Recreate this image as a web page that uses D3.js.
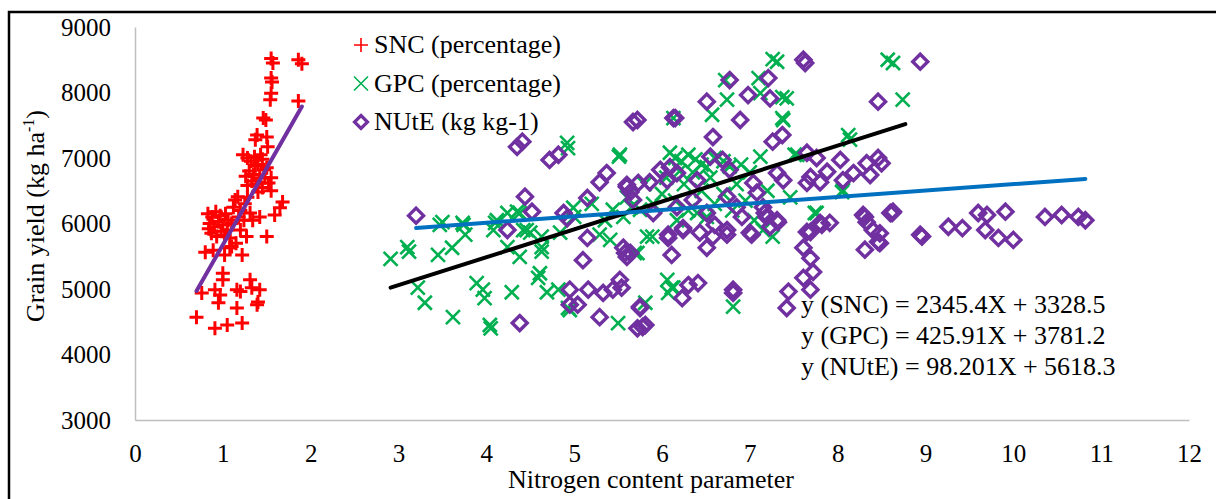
<!DOCTYPE html>
<html>
<head>
<meta charset="utf-8">
<script src="https://cdn.jsdelivr.net/npm/d3@7"></script>
<style>
  body { margin: 0; background: #fff; }
  svg { display: block; font-family: "Liberation Serif", "Times New Roman", serif; }
</style>
</head>
<body>
<div id="chart-area"></div>
<script>
// values
var sncPoints = [
  [1.55, 8520], [1.57, 8450], [1.86, 8500], [1.90, 8440], [1.55, 8220], [1.56, 8160],
  [1.55, 7990], [1.54, 7890], [1.86, 7870], [1.46, 7610], [1.49, 7580], [1.39, 7350],
  [1.50, 7320], [1.37, 7280], [1.51, 7170], [1.23, 7050],
  [1.28, 7000], [1.32, 6950], [1.36, 7020], [1.40, 6900], [1.45, 6980], [1.50, 6850],
  [1.30, 6800], [1.35, 6750], [1.42, 6700], [1.47, 6820], [1.26, 6720], [1.33, 6650],
  [1.38, 6600], [1.52, 6620], [1.45, 6550], [1.55, 6500], [1.40, 6480], [1.28, 6580],
  [1.48, 6700], [1.55, 6700], [1.37, 6880], [1.43, 7050],
  [1.68, 6330], [1.65, 6240], [1.59, 6130], [1.14, 6360], [1.17, 6410],
  [0.83, 6150], [0.88, 6100], [0.92, 6180], [0.97, 6120], [1.03, 6150], [1.06, 6050],
  [0.85, 6000], [0.90, 5950], [0.95, 6030], [1.00, 5980], [1.05, 5900], [0.87, 5850],
  [0.93, 5800], [0.98, 5880], [1.08, 5780], [0.84, 5920], [1.02, 5820],
  [1.12, 6250], [1.20, 6200], [1.25, 6300], [1.18, 6100], [1.10, 6000], [1.24, 6050],
  [1.28, 6400], [1.15, 5700], [1.10, 5650],
  [1.34, 6050], [1.31, 6160], [1.42, 6100], [1.50, 5800], [1.27, 5800], [1.20, 5900],
  [0.80, 5560], [0.89, 5590], [1.02, 5520], [1.08, 5630], [1.22, 5520],
  [1.00, 5240], [1.00, 5140], [0.76, 4940], [0.91, 4990], [0.97, 4910], [0.95, 4790],
  [1.16, 4990], [1.20, 4960], [1.31, 5140], [1.33, 5020], [1.42, 4990], [1.39, 4760],
  [1.40, 4800], [1.16, 4710], [0.70, 4570], [0.91, 4400], [1.05, 4450], [1.22, 4480]
];

var gpcPoints = [
  [7.26, 8510], [7.31, 8470], [8.57, 8500], [8.63, 8450], [7.10, 8220], [6.72, 8190],
  [6.74, 7890], [7.12, 7990], [7.42, 7910], [8.74, 7890], [6.57, 7660], [7.37, 7930],
  [7.37, 7610], [6.13, 7610], [4.92, 7230], [4.93, 7150], [5.52, 7050], [7.12, 7020],
  [8.12, 7350], [8.14, 7280], [7.54, 7050], [8.06, 6510], [7.76, 6160], [7.46, 6400],
  [6.09, 7080], [6.15, 7000], [6.22, 6950], [6.30, 7050], [6.38, 6980], [6.45, 6900],
  [6.51, 6860], [6.60, 7000], [6.70, 6950], [6.77, 6870], [6.20, 6800], [6.35, 6780],
  [6.90, 6900], [7.00, 6780], [6.05, 6700], [6.55, 6700], [6.25, 6600], [6.85, 6600],
  [6.00, 6450], [6.45, 6500], [6.70, 6450], [5.90, 6300], [6.15, 6350], [6.60, 6300],
  [6.95, 6350], [7.20, 6500], [5.80, 6600], [5.60, 6400], [6.30, 6200], [6.80, 6200],
  [3.50, 6020], [3.73, 6010], [4.12, 6050], [4.24, 6160], [4.38, 6160], [4.46, 5900],
  [3.10, 5640], [2.91, 5460], [3.12, 5570], [3.45, 5520], [3.61, 5630], [3.47, 5980],
  [3.74, 5980], [3.76, 5830], [4.08, 5900], [4.10, 6010], [4.35, 6180], [4.42, 5900],
  [4.50, 5860], [4.24, 5640], [4.38, 5490], [4.63, 5640], [4.63, 5800], [4.84, 5860],
  [4.99, 6240], [5.51, 7020], [5.29, 5830], [5.41, 5750], [5.44, 6210], [5.56, 6100],
  [5.72, 5550], [3.22, 5020], [3.30, 4790], [3.62, 4570], [3.89, 5090], [3.96, 4990],
  [3.98, 4860], [4.04, 4450], [4.05, 4400], [4.29, 4950], [4.61, 5240], [4.59, 5170],
  [4.69, 4950], [4.82, 4990], [4.93, 4710], [5.50, 4480], [5.75, 6210], [5.83, 5800],
  [7.74, 6160], [7.26, 5800], [5.89, 5800], [5.69, 5550], [6.06, 5140], [6.11, 5020],
  [6.07, 4940], [5.81, 4790], [6.81, 4730], [6.17, 6050], [6.40, 6160], [6.51, 6100],
  [7.38, 7580], [8.05, 6480], [7.51, 7050], [4.95, 4680], [6.13, 5020], [4.63, 5570],
  [5.20, 6300], [5.35, 6050], [5.00, 6100], [5.65, 6250], [7.05, 6050], [7.15, 5900]
];

var nutePoints = [
  [3.20, 6120], [4.35, 7170], [4.41, 7250], [4.72, 6970], [4.82, 7050], [5.67, 7550],
  [6.13, 7610], [6.51, 7860], [6.77, 8190], [7.21, 8220], [6.98, 7960], [7.23, 7910],
  [6.89, 7580], [6.58, 7320], [7.26, 7250], [7.37, 7350], [4.44, 6410], [4.52, 6180],
  [4.24, 5900], [5.15, 6390], [5.29, 6630], [5.37, 6770], [4.88, 6160], [4.92, 6080],
  [5.60, 6560], [5.64, 6480], [5.67, 6360], [5.73, 6620], [5.86, 6630], [5.98, 6820],
  [6.09, 6860], [6.17, 6770], [6.06, 6660], [6.40, 6660], [6.55, 7020], [6.69, 6970],
  [6.77, 6820], [7.04, 6620], [7.08, 6470], [7.31, 6770], [7.38, 6660], [7.15, 6250],
  [7.19, 6100], [7.23, 5950], [7.31, 6050], [6.85, 6250], [6.74, 6410], [6.51, 6160],
  [6.35, 6360], [5.90, 6160], [6.17, 6250], [6.24, 5900], [6.07, 5830], [6.43, 5860],
  [6.58, 5800], [6.74, 5900], [7.00, 5860], [5.15, 5780], [5.56, 5630], [5.10, 5440],
  [5.58, 5550], [5.60, 5490], [4.95, 4990], [5.04, 4760], [4.95, 4760], [5.16, 4990],
  [5.33, 4940], [5.44, 4990], [5.52, 5140], [5.54, 5020], [5.29, 4570], [4.38, 4480],
  [5.72, 4400], [5.78, 4420], [5.75, 4710], [5.60, 6590], [7.61, 8500], [7.63, 8450],
  [8.94, 8470], [8.46, 7860], [7.65, 7080], [7.76, 7000], [8.03, 6970], [8.18, 6770],
  [8.33, 6920], [8.46, 7000], [8.50, 6920], [8.37, 6740], [8.06, 6660], [7.88, 6790],
  [7.69, 6710], [7.65, 6620], [7.80, 6630], [8.29, 6130], [8.60, 6160], [8.63, 6180],
  [8.94, 5830], [7.65, 5870], [7.80, 6010], [7.91, 6010], [8.33, 6020], [8.40, 5900],
  [8.31, 6100], [8.46, 5720], [8.31, 5600], [8.96, 5800], [7.69, 5870], [7.82, 5980],
  [7.61, 5630], [7.69, 5470], [7.61, 5170], [7.72, 5260], [7.69, 4990], [7.44, 4960],
  [7.42, 4710], [6.81, 4940], [6.81, 4990], [6.30, 5060], [6.41, 5090], [6.23, 4860],
  [5.75, 4730], [5.81, 4450], [6.11, 5520], [6.07, 5780], [6.51, 5630], [6.74, 5830],
  [7.02, 5830], [7.17, 6160], [7.32, 6020], [6.91, 6100], [6.60, 5980], [6.24, 5930],
  [5.64, 5550], [8.62, 6160], [8.48, 5850], [8.48, 5700], [9.26, 5950], [9.42, 5930],
  [9.60, 6160], [9.70, 6130], [9.91, 6180], [9.68, 5900], [9.83, 5780], [10.00, 5750],
  [10.36, 6100], [10.55, 6130], [10.74, 6100], [10.82, 6050], [6.15, 7610], [5.72, 7580]
];

var seriesNames = ["SNC (percentage)", "GPC (percentage)", "NUtE (kg kg-1)"];
var trendSlopes = [2345.4, 425.91, 98.201];
var trendIntercepts = [3328.5, 3781.2, 5618.3];
var trendFrom = [0.7, 2.91, 3.2];
var trendTo = [1.9, 8.77, 10.82];
var equationLabels = [
  "y (SNC) = 2345.4X + 3328.5",
  "y (GPC) = 425.91X + 3781.2",
  "y (NUtE) = 98.201X + 5618.3"
];
var xTicks = [0, 1, 2, 3, 4, 5, 6, 7, 8, 9, 10, 11, 12];
var yTicks = [3000, 4000, 5000, 6000, 7000, 8000, 9000];

var red = "#ff0000", green = "#00b050", purple = "#7030a0", blue = "#0070c0";
var serif = "Liberation Serif, Times New Roman, serif";

var svg = d3.select("#chart-area").append("svg")
    .attr("width", 1216)
    .attr("height", 499);

// frame of the figure (runs off right and bottom)
svg.append("rect")
    .attr("x", 9).attr("y", 12)
    .attr("width", 1230).attr("height", 520)
    .attr("fill", "none")
    .attr("stroke", "black")
    .attr("stroke-width", 2.5);

var x = d3.scaleLinear().domain([0, 12]).range([135, 1189]);
var y = d3.scaleLinear().domain([3000, 9000]).range([420, 27]);

var xAxis = svg.append("g")
    .attr("transform", "translate(0,420)")
    .call(d3.axisBottom(x).tickValues(xTicks).tickFormat(d3.format("d")).tickSize(0).tickPadding(24));
var yAxis = svg.append("g")
    .attr("transform", "translate(135,0)")
    .call(d3.axisLeft(y).tickValues(yTicks).tickFormat(d3.format("d")).tickSize(0).tickPadding(24));

[xAxis, yAxis].forEach(function(a){
    a.attr("font-family", serif).attr("font-size", 25);
    a.select(".domain").attr("stroke", "#bfbfbf").attr("stroke-width", 1.5);
    a.selectAll("text").attr("fill", "#000");
});

// axis titles
svg.append("text")
    .attr("x", 651).attr("y", 488)
    .attr("text-anchor", "middle")
    .attr("font-size", "26px")
    .text("Nitrogen content parameter");

var yTitle = svg.append("text")
    .attr("transform", "translate(44,216) rotate(-90)")
    .attr("text-anchor", "middle")
    .attr("font-size", "26px");
yTitle.append("tspan").text("Grain yield (kg ha");
yTitle.append("tspan").attr("font-size", "16px").attr("dy", -10).text("-1");
yTitle.append("tspan").attr("dy", 10).text(")");

// marker shapes
function plus(g, s, w, c) {
    g.append("path").attr("d", "M" + (-s) + ",0H" + s + "M0," + (-s) + "V" + s)
        .attr("stroke", c).attr("stroke-width", w).attr("fill", "none");
}
function cross(g, s, w, c) {
    g.append("path").attr("d", "M" + (-s) + "," + (-s) + "L" + s + "," + s + "M" + (-s) + "," + s + "L" + s + "," + (-s))
        .attr("stroke", c).attr("stroke-width", w).attr("fill", "none");
}
function diamond(g, s, w, c) {
    g.append("path").attr("d", "M0," + (-s) + "L" + s + ",0L0," + s + "L" + (-s) + ",0Z")
        .attr("stroke", c).attr("stroke-width", w).attr("fill", "none");
}

svg.append("g").selectAll("g")
    .data(gpcPoints)
    .enter().append("g")
        .attr("transform", function(d){ return "translate(" + x(d[0]) + "," + y(d[1]) + ")"; })
        .each(function(){ cross(d3.select(this), 7, 2.6, green); });

svg.append("g").selectAll("g")
    .data(nutePoints)
    .enter().append("g")
        .attr("transform", function(d){ return "translate(" + x(d[0]) + "," + y(d[1]) + ")"; })
        .each(function(){ diamond(d3.select(this), 7.5, 3.4, purple); });

svg.append("g").selectAll("g")
    .data(sncPoints)
    .enter().append("g")
        .attr("transform", function(d){ return "translate(" + x(d[0]) + "," + y(d[1]) + ")"; })
        .each(function(){ plus(d3.select(this), 7, 3, red); });

// trend lines
var trendColors = [purple, "#000000", blue];
trendSlopes.forEach(function(m, i){
    var b = trendIntercepts[i];
    svg.append("line")
        .attr("x1", x(trendFrom[i])).attr("y1", y(m * trendFrom[i] + b))
        .attr("x2", x(trendTo[i])).attr("y2", y(m * trendTo[i] + b))
        .attr("stroke", trendColors[i])
        .attr("stroke-width", 4)
        .attr("stroke-linecap", "round");
});

// legend
var legendMarkers = [plus, cross, diamond];
var legendColors = [red, green, purple];
seriesNames.forEach(function(name, i){
    var cy = 45 + i * 38.5;
    var g = svg.append("g").attr("transform", "translate(361," + cy + ")");
    legendMarkers[i](g, i == 2 ? 6.5 : 7, i == 2 ? 3.2 : 1.6, legendColors[i]);
    svg.append("text")
        .attr("x", 374).attr("y", cy + 8)
        .attr("font-size", "26px")
        .attr("fill", "#000")
        .text(name);
});

// regression equations
equationLabels.forEach(function(t, i){
    svg.append("text")
        .attr("x", 801).attr("y", 313 + i * 31)
        .attr("font-size", "26px")
        .attr("fill", "#000")
        .text(t);
});
</script>
</body>
</html>
